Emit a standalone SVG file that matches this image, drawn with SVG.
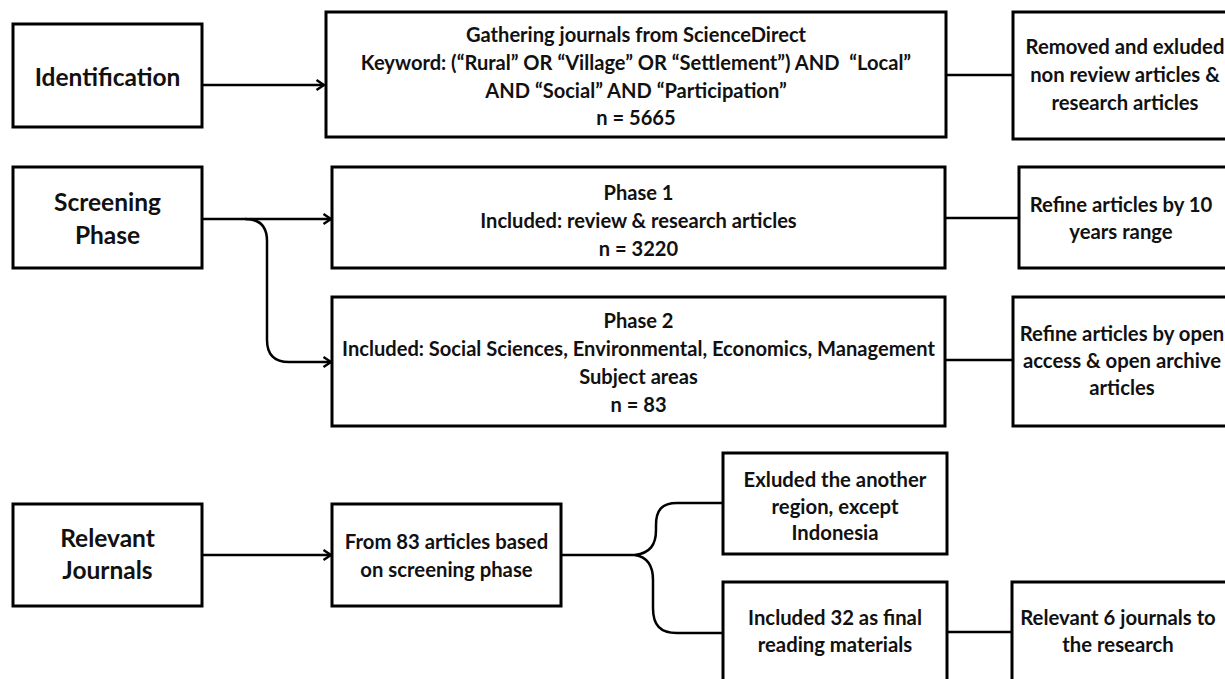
<svg xmlns="http://www.w3.org/2000/svg" width="1225" height="679" viewBox="0 0 1225 679">
<style>
.box{fill:#fff;stroke:#000;stroke-width:3}
.lbl{font-family:Lato,"Liberation Sans",sans-serif;font-weight:bold;font-size:24.5px;text-anchor:middle;fill:#111}
.mid{font-family:Lato,"Liberation Sans",sans-serif;font-weight:bold;font-size:20.1px;text-anchor:middle;fill:#111}
.rt{font-family:Lato,"Liberation Sans",sans-serif;font-weight:bold;font-size:20.3px;text-anchor:middle;fill:#111}
.ln{fill:none;stroke:#000;stroke-width:2.5}
</style>
<defs>
<marker id="arr" viewBox="0 0 10 12" refX="9" refY="6" markerWidth="10" markerHeight="12" markerUnits="userSpaceOnUse" orient="auto">
<path d="M1.5,1 L9,6 L1.5,11" fill="none" stroke="#000" stroke-width="2.4"/>
</marker>
</defs>
<rect width="1225" height="679" fill="#fff"/>
<g id="connectors">
<path class="ln" d="M202,85 L324,85" marker-end="url(#arr)"/>
<path class="ln" d="M946,75 L1013,75"/>
<path class="ln" d="M202,219 L331,219" marker-end="url(#arr)"/>
<path class="ln" d="M245,219 Q267,219 267,241 L267,340 Q267,362 289,362 L331,362" marker-end="url(#arr)"/>
<path class="ln" d="M945,218 L1019,218"/>
<path class="ln" d="M945,360 L1013,360"/>
<path class="ln" d="M202,555 L331,555" marker-end="url(#arr)"/>
<path class="ln" d="M561,555 L635,555 C650,553 656,545 656,530 L656,525 C656,510 662,503 677,503 L723,503"/>
<path class="ln" d="M635,555 C647,557 653,565 653,580 L653,608 C653,625 660,633 677,633 L723,633"/>
<path class="ln" d="M947,632 L1012,632"/>
</g>
<g id="identification">
<rect class="box" x="13" y="24" width="189" height="103"/>
<text class="lbl" x="107.5" y="86">Identification</text>
</g>
<g id="gathering">
<rect class="box" x="326" y="12" width="620" height="125"/>
<text class="mid" x="636" y="42">Gathering journals from ScienceDirect</text>
<text class="mid" x="636" y="70">Keyword: (“Rural” OR “Village” OR “Settlement”) AND&#160; “Local”</text>
<text class="mid" x="636" y="98">AND “Social” AND “Participation”</text>
<text class="mid" x="636" y="125">n = 5665</text>
</g>
<g id="removed">
<rect class="box" x="1013" y="12" width="230" height="127"/>
<text class="rt" x="1125" y="54">Removed and exluded</text>
<text class="rt" x="1125" y="82">non review articles &amp;</text>
<text class="rt" x="1125" y="110">research articles</text>
</g>
<g id="screening">
<rect class="box" x="13" y="167" width="189" height="101"/>
<text class="lbl" x="107.5" y="211">Screening</text>
<text class="lbl" x="107.5" y="244">Phase</text>
</g>
<g id="phase1">
<rect class="box" x="332" y="167" width="613" height="101"/>
<text class="mid" x="638.5" y="200">Phase 1</text>
<text class="mid" x="638.5" y="228">Included: review &amp; research articles</text>
<text class="mid" x="638.5" y="256">n = 3220</text>
</g>
<g id="refine10">
<rect class="box" x="1019" y="167" width="224" height="101"/>
<text class="rt" x="1121" y="212">Refine articles by 10</text>
<text class="rt" x="1121" y="239">years range</text>
</g>
<g id="phase2">
<rect class="box" x="332" y="297" width="613" height="129"/>
<text class="mid" x="638.5" y="328">Phase 2</text>
<text class="mid" x="638.5" y="356">Included: Social Sciences, Environmental, Economics, Management</text>
<text class="mid" x="638.5" y="384">Subject areas</text>
<text class="mid" x="638.5" y="412">n = 83</text>
</g>
<g id="refineopen">
<rect class="box" x="1013" y="297" width="230" height="129"/>
<text class="rt" x="1122" y="341">Refine articles by open</text>
<text class="rt" x="1122" y="368">access &amp; open archive</text>
<text class="rt" x="1122" y="395">articles</text>
</g>
<g id="relevant">
<rect class="box" x="13" y="504" width="189" height="102"/>
<text class="lbl" x="107.5" y="547">Relevant</text>
<text class="lbl" x="107.5" y="579">Journals</text>
</g>
<g id="from83">
<rect class="box" x="332" y="504" width="229" height="102"/>
<text class="rt" x="446.5" y="549">From 83 articles based</text>
<text class="rt" x="446.5" y="577">on screening phase</text>
</g>
<g id="exluded">
<rect class="box" x="723" y="453" width="224" height="101"/>
<text class="rt" x="835" y="487">Exluded the another</text>
<text class="rt" x="835" y="514">region, except</text>
<text class="rt" x="835" y="540">Indonesia</text>
</g>
<g id="included32">
<rect class="box" x="723" y="582" width="224" height="110"/>
<text class="rt" x="835" y="625">Included 32 as final</text>
<text class="rt" x="835" y="652">reading materials</text>
</g>
<g id="relevant6">
<rect class="box" x="1012" y="582" width="230" height="110"/>
<text class="rt" x="1118" y="625">Relevant 6 journals to</text>
<text class="rt" x="1118" y="652">the research</text>
</g>
</svg>
